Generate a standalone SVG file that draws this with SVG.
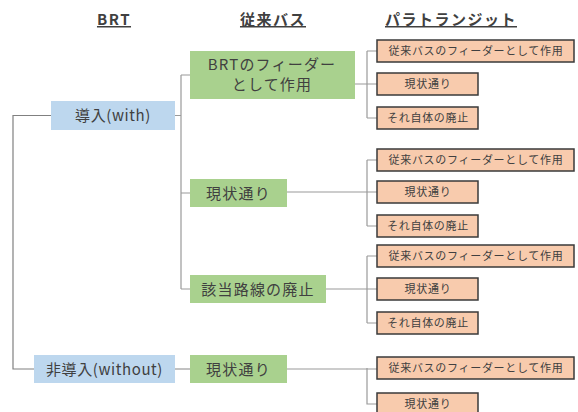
<svg xmlns="http://www.w3.org/2000/svg" width="578" height="412" viewBox="0 0 578 412">
<style>
text{font-family:"Noto Sans CJK JP","Noto Sans",sans-serif;fill:#404040;text-anchor:middle}
.hd{font-size:15px;font-weight:bold;letter-spacing:1.5px;text-decoration:underline}
.bl{fill:#bdd7ee}
.gr{fill:#a9d18e}
.or{fill:#f8cbad;stroke:#3a3a3a;stroke-width:1.5}
.t1{font-size:15px;letter-spacing:0.6px}
.t2{font-size:15px;letter-spacing:1.2px}
.t3{font-size:11px;letter-spacing:0.7px}
.ln{fill:none;stroke:#808080;stroke-width:1.2}
.ln2{fill:none;stroke:#9a9a9a;stroke-width:1.2}
</style>
<rect width="578" height="412" fill="#ffffff"/>
<g id="headers">
<text class="hd" x="114" y="25">BRT</text>
<text class="hd" x="273" y="25">従来バス</text>
<text class="hd" x="451" y="25">パラトランジット</text>
</g>
<g id="connectors">
<path class="ln" d="M51 115.5H13V369H34"/>
<path class="ln2" d="M175 115.5H181M181 75V289M181 75H190M181 193H190M181 289H190"/>
<path class="ln2" d="M175 369H190"/>
<path class="ln2" d="M355 84H377M367 51V118M367 51H377M367 118H377"/>
<path class="ln2" d="M287 192H377M367 160V226M367 160H377M367 226H377"/>
<path class="ln2" d="M326 289H377M367 256V323M367 256H377M367 323H377"/>
<path class="ln2" d="M287 369H377M367 368V404H377"/>
</g>
<g id="n_with"><rect class="bl" x="51" y="101" width="124" height="29"/><text class="t1" x="113" y="121">導入(with)</text></g>
<g id="n_without"><rect class="bl" x="34" y="355" width="141" height="28"/><text class="t1" x="104.5" y="374.5">非導入(without)</text></g>
<g id="g1"><rect class="gr" x="190" y="51" width="165" height="48"/><text class="t2" x="272" y="70">BRTのフィーダー</text><text class="t2" x="272" y="90">として作用</text></g>
<g id="g2"><rect class="gr" x="190" y="179" width="97" height="28"/><text class="t2" x="238.5" y="198.5">現状通り</text></g>
<g id="g3"><rect class="gr" x="190" y="275" width="136" height="28"/><text class="t2" x="258" y="294.5">該当路線の廃止</text></g>
<g id="g4"><rect class="gr" x="190" y="355" width="97" height="28"/><text class="t2" x="238.5" y="374.5">現状通り</text></g>
<g id="o1a"><rect class="or" x="377" y="40" width="197" height="22"/><text class="t3" x="476" y="55">従来バスのフィーダーとして作用</text></g>
<g id="o1b"><rect class="or" x="377" y="73" width="101" height="22"/><text class="t3" x="428" y="88">現状通り</text></g>
<g id="o1c"><rect class="or" x="377" y="107" width="101" height="22"/><text class="t3" x="428" y="122">それ自体の廃止</text></g>
<g id="o2a"><rect class="or" x="377" y="149" width="197" height="22"/><text class="t3" x="476" y="164">従来バスのフィーダーとして作用</text></g>
<g id="o2b"><rect class="or" x="377" y="181" width="101" height="22"/><text class="t3" x="428" y="196">現状通り</text></g>
<g id="o2c"><rect class="or" x="377" y="215" width="101" height="22"/><text class="t3" x="428" y="230">それ自体の廃止</text></g>
<g id="o3a"><rect class="or" x="377" y="245" width="197" height="22"/><text class="t3" x="476" y="260">従来バスのフィーダーとして作用</text></g>
<g id="o3b"><rect class="or" x="377" y="278" width="101" height="22"/><text class="t3" x="428" y="293">現状通り</text></g>
<g id="o3c"><rect class="or" x="377" y="312" width="101" height="22"/><text class="t3" x="428" y="327">それ自体の廃止</text></g>
<g id="o4a"><rect class="or" x="377" y="357" width="197" height="22"/><text class="t3" x="476" y="372">従来バスのフィーダーとして作用</text></g>
<g id="o4b"><rect class="or" x="377" y="393" width="101" height="22"/><text class="t3" x="428" y="408">現状通り</text></g>
</svg>
